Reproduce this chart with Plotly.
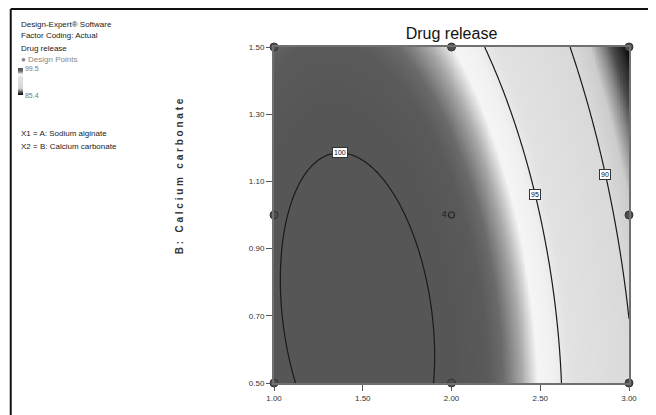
import numpy as np
import plotly.graph_objects as go

# ---- data ----
# Fitted response surface (actual factors): Drug release =
# b0 + bA*A + bB*B + bAB*A*B + bAA*A^2 + bBB*B^2
coef_names = ["b0", "bA", "bB", "bAB", "bAA", "bBB"]
coef_values = [87.144, 14.9318, 7.807, -1.8983, -4.63, -3.6176]

a_range = [1.0, 3.0]
b_range = [0.5, 1.5]
contour_levels = [90, 95, 100]
label_b = [1.12, 1.06, 1.185]          # B where each contour label sits
label_side = ["high", "high", "peak"]

design_a = [1.0, 2.0, 3.0, 1.0, 3.0, 1.0, 2.0, 3.0]
design_b = [0.5, 0.5, 0.5, 1.0, 1.0, 1.5, 1.5, 1.5]
center_a = [2.0]
center_b = [1.0]
center_reps = ["4"]

x_tickvals = [1.0, 1.5, 2.0, 2.5, 3.0]
x_ticktext = ["1.00", "1.50", "2.00", "2.50", "3.00"]
y_tickvals = [0.5, 0.7, 0.9, 1.1, 1.3, 1.5]
y_ticktext = ["0.50", "0.70", "0.90", "1.10", "1.30", "1.50"]

z_min, z_max = 85.4, 99.5

# ---- computation ----
c = dict(zip(coef_names, coef_values))
A = np.linspace(a_range[0], a_range[1], 241)
B = np.linspace(b_range[0], b_range[1], 121)
AA, BB = np.meshgrid(A, B)
Z = (c["b0"] + c["bA"] * AA + c["bB"] * BB + c["bAB"] * AA * BB
     + c["bAA"] * AA ** 2 + c["bBB"] * BB ** 2)


def solve_a(level, b, side):
    qa = c["bAA"]
    qb = c["bA"] + c["bAB"] * b
    qc = c["b0"] + c["bB"] * b + c["bBB"] * b * b - level
    if side == "peak":
        return -qb / (2 * qa)
    d = max(qb * qb - 4 * qa * qc, 0.0)
    r1 = (-qb + np.sqrt(d)) / (2 * qa)
    r2 = (-qb - np.sqrt(d)) / (2 * qa)
    return max(r1, r2)


def t(v):
    return (v - z_min) / (z_max - z_min)


colorscale = [
    [0.0, "#000000"],
    [t(86.0), "#262626"],
    [t(86.8), "#4a4a4a"],
    [t(87.6), "#8a8a8a"],
    [t(88.6), "#cccccc"],
    [t(90.0), "#d9d9d9"],
    [t(94.5), "#e2e2e2"],
    [t(95.5), "#f1f1f1"],
    [t(96.3), "#f5f5f5"],
    [t(97.1), "#a8a8a8"],
    [t(97.9), "#6a6a6a"],
    [t(98.5), "#5a5a5a"],
    [1.0, "#565656"],
]

# The page body has an 8px margin: work in page pixels, shift by OFF.
OFF = 8
W, H = 656 - OFF, 415 - OFF
L, R, T, Bt = 273 - OFF, 629 - OFF, 47 - OFF, 383 - OFF


def px(p):
    return (p - OFF - L) / (R - L)


def py(p):
    return (Bt - (p - OFF)) / (Bt - T)


narrow = "Liberation Sans Narrow, Arial Narrow, Liberation Sans, Arial"

fig = go.Figure()
fig.add_trace(go.Heatmap(
    x=A, y=B, z=Z, zmin=z_min, zmax=z_max, zsmooth="best",
    colorscale=colorscale, hoverinfo="skip",
    colorbar=dict(
        x=px(18), xanchor="left", y=py(82), yanchor="middle",
        thickness=5, thicknessmode="pixels", len=27, lenmode="pixels",
        outlinewidth=0, ticks="", tickvals=[z_min, z_max],
        ticktext=["85.4", "99.5"], xpad=0, ypad=0,
        tickfont=dict(family=narrow, size=7, color="#777777"),
    ),
))
fig.add_trace(go.Contour(
    x=A, y=B, z=Z, showscale=False, hoverinfo="skip",
    contours=dict(start=min(contour_levels), end=max(contour_levels),
                  size=5, coloring="none"),
    line=dict(color="#1a1a1a", width=1.2),
))
fig.add_trace(go.Scatter(
    x=design_a, y=design_b, mode="markers", cliponaxis=False,
    marker=dict(size=8, color="#4d4d4d", line=dict(color="#333333", width=1)),
    hoverinfo="skip",
))
fig.add_trace(go.Scatter(
    x=center_a, y=center_b, mode="markers+text", text=center_reps,
    textposition="middle left", cliponaxis=False,
    textfont=dict(family=narrow, size=9, color="#222222"),
    marker=dict(size=6, color="rgba(0,0,0,0)", line=dict(color="#222222", width=1.2)),
    hoverinfo="skip",
))

ann = []
for lev, bl, side in zip(contour_levels, label_b, label_side):
    ann.append(dict(
        x=solve_a(lev, bl, side), y=bl, xref="x", yref="y", text=str(lev),
        showarrow=False, bgcolor="#ffffff", bordercolor="#333333",
        borderwidth=1, borderpad=1,
        font=dict(family=narrow, size=7, color="#111111"),
    ))

left_lines = [
    ("Design-Expert® Software", 24, "#222222"),
    ("Factor Coding: Actual", 36, "#222222"),
    ("Drug release", 48, "#222222"),
    ("● Design Points", 60, "#888888"),
    ("X1 = A: Sodium alginate", 134, "#222222"),
    ("X2 = B: Calcium carbonate", 146, "#222222"),
]
for txt, yy, col in left_lines:
    ann.append(dict(
        x=px(17), y=py(yy), xref="paper", yref="paper", text=txt,
        xanchor="left", yanchor="middle", showarrow=False,
        font=dict(family=narrow, size=8, color=col),
    ))

ann.append(dict(
    x=px(178), y=py(176), xref="paper", yref="paper",
    text="<b>B :   C a l c i u m   c a r b o n a t e</b>",
    textangle=-90, showarrow=False, xanchor="center", yanchor="middle",
    font=dict(family="Liberation Sans, Arial", size=10, color="#333333"),
))

shapes = [
    dict(type="line", xref="paper", yref="paper", x0=px(9), x1=px(656),
         y0=py(9), y1=py(9), line=dict(color="#111111", width=2)),
    dict(type="line", xref="paper", yref="paper", x0=px(9), x1=px(9),
         y0=py(9), y1=py(415), line=dict(color="#111111", width=2)),
]

axis_common = dict(
    showgrid=False, zeroline=False, showline=True, mirror=True,
    linecolor="#707070", linewidth=2, ticks="outside", ticklen=6,
    tickcolor="#555555", tickwidth=1,
    tickfont=dict(family=narrow, size=8, color="#333333"),
)

fig.update_layout(
    width=W, height=H,
    margin=dict(l=L, r=W - R, t=T, b=H - Bt),
    paper_bgcolor="#ffffff", plot_bgcolor="#ffffff",
    showlegend=False,
    title=dict(text="Drug release", x=0.5, xref="paper", xanchor="center",
               y=1 - (33 - OFF) / H, yref="container", yanchor="middle",
               font=dict(family=narrow, size=16, color="#111111")),
    xaxis=dict(range=a_range, tickvals=x_tickvals, ticktext=x_ticktext, **axis_common),
    yaxis=dict(range=b_range, tickvals=y_tickvals, ticktext=y_ticktext, **axis_common),
    annotations=ann, shapes=shapes,
)

fig.write_html("out.html")
